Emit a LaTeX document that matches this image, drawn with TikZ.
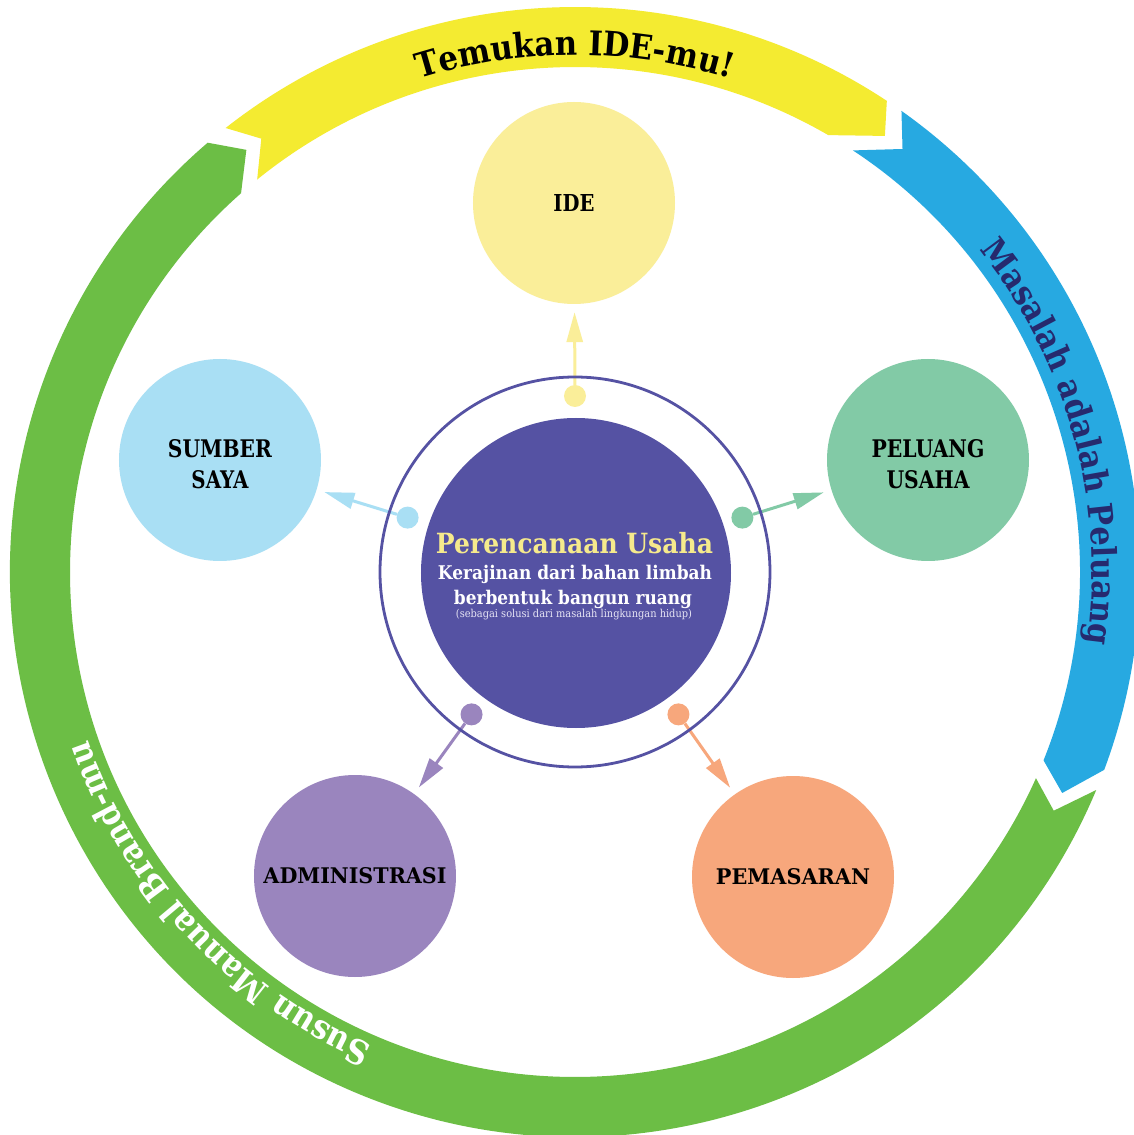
\documentclass[tikz,border=0pt]{standalone}
\usepackage{fontspec}
\newfontfamily\camb{DejaVu Serif}[FakeStretch=0.9]
\usetikzlibrary{arrows.meta,decorations.text}
\definecolor{ringY}{HTML}{F4EB31}
\definecolor{ringB}{HTML}{27A9E1}
\definecolor{ringG}{HTML}{6CBE45}
\definecolor{navy}{HTML}{5552A3}
\definecolor{darknavy}{HTML}{262A6E}
\definecolor{cIde}{HTML}{FAEE99}
\definecolor{cSum}{HTML}{A9DFF4}
\definecolor{cPel}{HTML}{82CAA6}
\definecolor{cAdm}{HTML}{9A85BE}
\definecolor{cPem}{HTML}{F7A77C}
\definecolor{titleY}{HTML}{F6EA8C}
\definecolor{subW}{HTML}{E6E4F4}
\begin{document}
\begin{tikzpicture}[x=1pt,y=1pt,font=\camb,
  bigc/.style={circle,minimum size=202pt,inner sep=0pt,fill=#1,text=black,align=center,
    font=\camb\bfseries\fontsize{20}{31}\selectfont},
  dotc/.style={circle,minimum size=22pt,inner sep=0pt,fill=#1},
  conn/.style={draw=#1,line width=3pt,-{Triangle[length=30pt,width=16pt]},shorten >=8pt},
  ringtext/.style={decorate,decoration={text along path,text align=center,text color=#1}}]
\useasboundingbox (-575,-563) rectangle (559,572);
\fill[white] (-575,-563) rectangle (559,572);
% outer ring segments
\fill[ringY] (128.2:565) arc[start angle=128.2,end angle=56.5,radius=565] -- (54.6:535)
  -- (59.9:505) arc[start angle=59.9,end angle=129.0,radius=505] -- (125.9:535) -- cycle;
\fill[ringB] (54.7:565) arc[start angle=54.7,end angle=-20.5,radius=565] -- (-24.4:535)
  -- (-21.9:505) arc[start angle=-21.9,end angle=56.6,radius=505] -- (52.25:535) -- cycle;
\fill[ringG] (-22.7:565) arc[start angle=-22.7,end angle=-229.45,radius=565] -- (-232.1:535)
  -- (-228.6:505) arc[start angle=-228.6,end angle=-24.1,radius=505] -- (-26.5:535) -- cycle;
% ring texts
\path[ringtext=black,decoration={text={|\camb\bfseries\fontsize{34}{40}\selectfont|Temukan IDE-mu!}}]
  (130:517) arc[start angle=130,end angle=50,radius=517];
\path[ringtext=darknavy,decoration={text={|\camb\bfseries\fontsize{34}{40}\selectfont|Masalah adalah Peluang}}]
  (55.3:517) arc[start angle=55.3,end angle=-24.7,radius=517];
\path[ringtext=white,decoration={text={|\camb\bfseries\fontsize{34}{40}\selectfont|Susun Manual Brand-mu}}]
  (262.9:515) arc[start angle=262.9,end angle=182.9,radius=515];
% outer circles
\node[bigc=cIde] (nI) at (-1,369) {\resizebox{41pt}{17pt}{IDE}};
\node[bigc=cSum] (nS) at (-355,112) {\rule{0pt}{27pt}\resizebox{104pt}{18pt}{SUMBER}\\\resizebox{57pt}{18pt}{SAYA}};
\node[bigc=cPel] (nP) at (353,112) {\rule{0pt}{27pt}\resizebox{113pt}{18pt}{PELUANG}\\\resizebox{83pt}{18pt}{USAHA}};
\node[bigc=cAdm] (nA) at (-220,-304) {\resizebox{183pt}{16pt}{ADMINISTRASI}};
\node[bigc=cPem] (nM) at (218,-305) {\resizebox{154pt}{16pt}{PEMASARAN}};
% dots
\node[dotc=cIde] (dI) at (90:176) {};
\node[dotc=cSum] (dS) at (162:176) {};
\node[dotc=cPel] (dP) at (18:176) {};
\node[dotc=cAdm] (dA) at (234:176) {};
\node[dotc=cPem] (dM) at (306:176) {};
% connectors
\draw[conn=cIde] (dI) -- (nI);
\draw[conn=cSum] (dS) -- (nS);
\draw[conn=cPel] (dP) -- (nP);
\draw[conn=cAdm] (dA) -- (nA);
\draw[conn=cPem] (dM) -- (nM);
% centre
\node[circle,draw=navy,line width=2.8pt,minimum size=390pt,inner sep=0pt] (ring) at (0,0) {};
\node[circle,fill=navy,minimum size=310pt,inner sep=0pt] (core) at (1,-1) {};
\node[anchor=base,text=titleY,font=\camb\bfseries\fontsize{27}{30}\selectfont] (t1) at (-0.5,19) {\resizebox{277pt}{!}{Perencanaan Usaha}};
\node[anchor=base,text=white,font=\camb\bfseries\fontsize{20}{24}\selectfont] (t2) at (0,-8) {\resizebox{274pt}{!}{Kerajinan dari bahan limbah}};
\node[anchor=base,text=white,font=\camb\bfseries\fontsize{20}{24}\selectfont] (t3) at (-2,-32) {\resizebox{238pt}{!}{berbentuk bangun ruang}};
\node[anchor=base,text=subW,font=\camb\fontsize{12}{14}\selectfont] (t4) at (-1,-45) {\resizebox{236pt}{!}{(sebagai solusi dari masalah lingkungan hidup)}};
\end{tikzpicture}
\end{document}
